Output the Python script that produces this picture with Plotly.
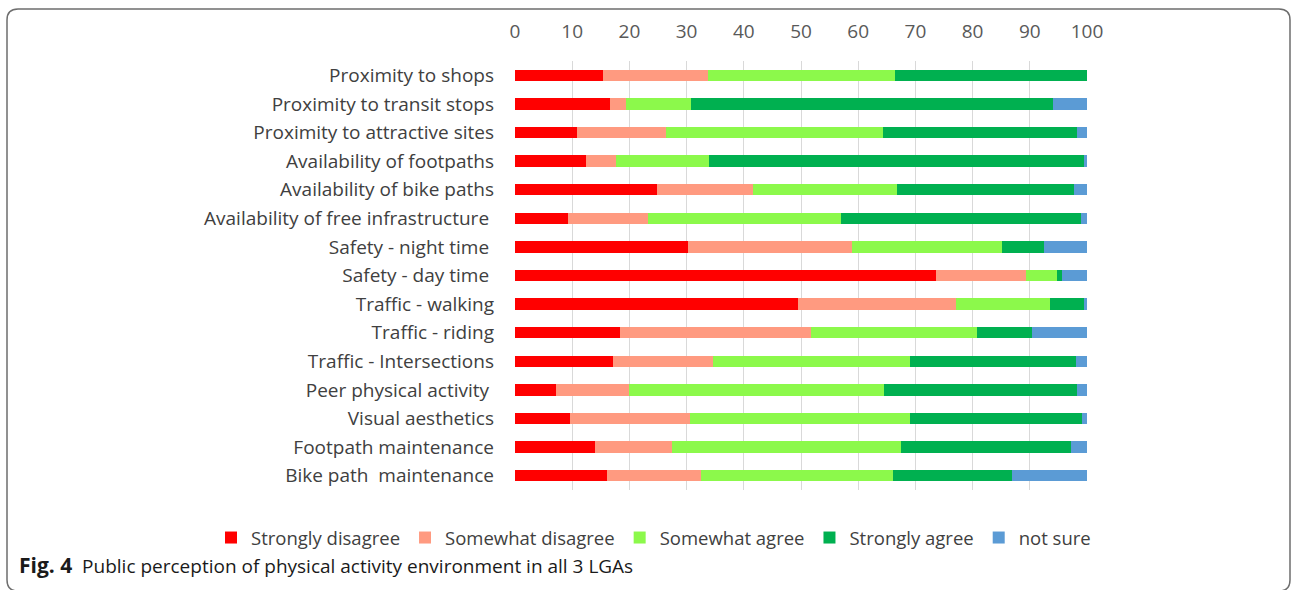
import plotly.graph_objects as go

# Survey items (top to bottom)
items = [
    "Proximity to shops",
    "Proximity to transit stops",
    "Proximity to attractive sites",
    "Availability of footpaths",
    "Availability of bike paths",
    "Availability of free infrastructure ",
    "Safety - night time ",
    "Safety - day time ",
    "Traffic - walking",
    "Traffic - riding",
    "Traffic - Intersections",
    "Peer physical activity ",
    "Visual aesthetics",
    "Footpath maintenance",
    "Bike path  maintenance",
]

# Percentage of responses per answer category
strongly_disagree = [15.4, 16.6, 10.9, 12.4, 24.9, 9.2, 30.2, 73.6, 49.4, 18.4, 17.2, 7.2, 9.6, 14.0, 16.1]
somewhat_disagree = [18.3, 2.8, 15.5, 5.3, 16.7, 14.0, 28.8, 15.8, 27.7, 33.3, 17.5, 12.8, 21.0, 13.4, 16.4]
somewhat_agree = [32.7, 11.4, 37.9, 16.3, 25.2, 33.8, 26.2, 5.3, 16.4, 29.1, 34.4, 44.5, 38.5, 40.0, 33.5]
strongly_agree = [33.6, 63.2, 34.0, 65.5, 30.9, 41.9, 7.3, 0.9, 6.0, 9.6, 29.0, 33.8, 30.0, 29.8, 20.8]
not_sure = [0.0, 6.0, 1.7, 0.5, 2.3, 1.1, 7.5, 4.4, 0.5, 9.6, 1.9, 1.7, 0.9, 2.8, 13.2]

x_ticks = list(range(0, 101, 10))

series = [
    ("Strongly disagree", strongly_disagree, "#FF0000"),
    ("Somewhat disagree", somewhat_disagree, "#FF9A80"),
    ("Somewhat agree", somewhat_agree, "#8CF94B"),
    ("Strongly agree", strongly_agree, "#00B050"),
    ("not sure", not_sure, "#5B9BD5"),
]

FONT = "Open Sans"
TEXT = "#404040"

W, H = 1292, 590
ML, MR, MT, MB = 515, 205, 61, 100
PW, PH = W - ML - MR, H - MT - MB

fig = go.Figure()
for name, vals, color in series:
    fig.add_trace(go.Bar(
        y=items, x=vals, name=name, orientation="h",
        marker=dict(color=color, line=dict(width=0)),
    ))


def px(x):
    return (x - ML) / PW


def py(y):
    return (H - MB - y) / PH


# rounded frame around the whole figure
x0, x1, y0, y1, r = 7, 1290, 9, 591, 11
frame = (
    f"M {px(x0)},{py(y0 + r)} "
    f"Q {px(x0)},{py(y0)} {px(x0 + r)},{py(y0)} "
    f"L {px(x1 - r)},{py(y0)} "
    f"Q {px(x1)},{py(y0)} {px(x1)},{py(y0 + r)} "
    f"L {px(x1)},{py(y1 - r)} "
    f"Q {px(x1)},{py(y1)} {px(x1 - r)},{py(y1)} "
    f"L {px(x0 + r)},{py(y1)} "
    f"Q {px(x0)},{py(y1)} {px(x0)},{py(y1 - r)} Z"
)

fig.update_layout(
    width=W, height=H,
    margin=dict(l=ML, r=MR, t=MT, b=MB),
    paper_bgcolor="white", plot_bgcolor="white",
    barmode="stack", bargap=0.6,
    font=dict(family=FONT, size=19, color=TEXT),
    showlegend=True,
    legend=dict(
        orientation="h", x=px(211), xanchor="left", y=py(538), yanchor="middle",
        font=dict(family=FONT, size=18.5, color=TEXT),
        itemwidth=30, tracegroupgap=0, traceorder="normal",
    ),
    shapes=[dict(
        type="path", xref="paper", yref="paper", path=frame,
        line=dict(color="#6e6e6e", width=1.5), layer="below",
    )],
    annotations=[dict(
        xref="paper", yref="paper", x=px(17), y=py(565),
        xanchor="left", yanchor="middle", showarrow=False,
        text="<b><span style='font-size:21px'>Fig. 4</span></b>  Public perception of physical activity environment in all 3 LGAs",
        font=dict(family=FONT, size=19, color="#1a1a1a"),
    )],
)

fig.update_xaxes(
    side="top", range=[0, 100], tickvals=x_ticks,
    showgrid=True, gridcolor="#d9d9d9", gridwidth=1,
    zeroline=False, showline=False, ticks="",
    ticklabelstandoff=18,
    tickfont=dict(family=FONT, size=19, color="#595959"),
)
fig.update_yaxes(
    autorange="reversed", showgrid=False, zeroline=False,
    showline=False, ticks="", ticklabelstandoff=20,
    tickfont=dict(family=FONT, size=19, color=TEXT),
)

fig.write_html("out.html")
